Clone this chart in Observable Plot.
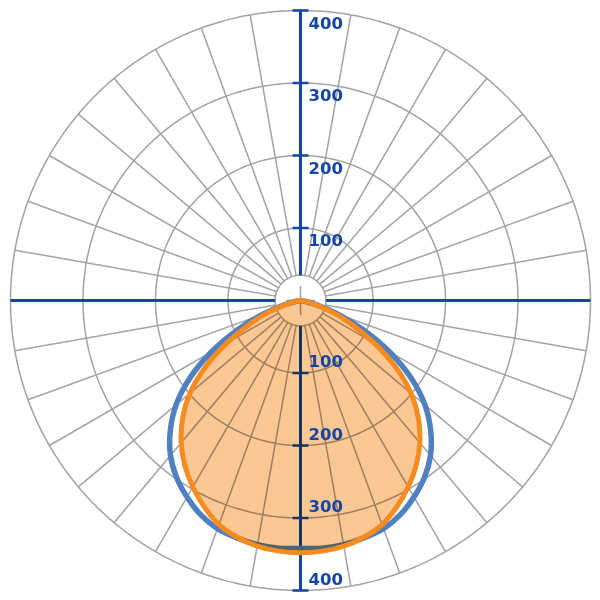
<!DOCTYPE html>
<html><head><meta charset="utf-8">
<script src="https://cdn.jsdelivr.net/npm/d3@7"></script>
<script src="https://cdn.jsdelivr.net/npm/@observablehq/plot@0.6"></script>
<style>
html,body{margin:0;padding:0;background:#fff;}
#chart svg{display:block;}
</style></head><body><div id="chart"></div>
<script>
// gamma angles (degrees from nadir) and luminous intensity values (cd/klm)
const gammaAngles = [0,5,10,15,20,25,30,35,40,45,50,55,60,65,70,75,80,85];
const intensityC0 = [342,343,342,339,335,326,313,298,279,254,224,186,142,96,55,24,6,0];   // blue
const intensityC90 = [348,347,344,338,329,314,297,278,256,230,199,160,117,78,46,19,5,0];  // orange
const ringValues = [100,200,300,400];
const innerRing = 35;
const spokeAngles = d3.range(0,360,10).filter(a => a % 90 !== 0);
const tickValues = [100,200,300,400];
const tickLabels = ["100","200","300","400"];

const rad = d => d*Math.PI/180;
const maxR = 400;

function curvePts(vals){
  const pts = [];
  for (let i = gammaAngles.length-1; i >= 0; i--) pts.push({a:-gammaAngles[i], v:vals[i]});
  for (let i = 1; i < gammaAngles.length; i++) pts.push({a:gammaAngles[i], v:vals[i]});
  return pts.map(p => ({x: p.v*Math.sin(rad(p.a)), y: -p.v*Math.cos(rad(p.a))}));
}
const c0 = curvePts(intensityC0);
const c90 = curvePts(intensityC90);

const rings = [];
for (const r of [innerRing, ...ringValues]) for (let a = 0; a <= 360; a += 1) rings.push({ring:r, x:r*Math.sin(rad(a)), y:r*Math.cos(rad(a))});

const spokes = spokeAngles.map(a => ({x1:innerRing*Math.sin(rad(a)), y1:innerRing*Math.cos(rad(a)), x2:maxR*Math.sin(rad(a)), y2:maxR*Math.cos(rad(a))}));
const crossLen = 20;
const cross = [{x1:-crossLen,y1:0,x2:crossLen,y2:0},{x1:0,y1:-crossLen,x2:0,y2:crossLen}];
const axes = [
  {x1:-maxR,y1:0,x2:-innerRing,y2:0},{x1:innerRing,y1:0,x2:maxR,y2:0},
  {x1:0,y1:innerRing,x2:0,y2:maxR},{x1:0,y1:-innerRing,x2:0,y2:-maxR}
];
const tickHalf = 11;
const ticks = [];
for (const v of tickValues) for (const s of [1,-1]) ticks.push({x1:-tickHalf, x2:tickHalf, y:s*v});
const labelsTop = tickValues.map((v,i) => ({y:v, t:tickLabels[i]}));
const labelsBottom = tickValues.map((v,i) => ({y:-v, t:tickLabels[i]}));

const blue = "#1546a5";
const fillColor = "#fbc792";
const chart = Plot.plot({
  width: 600, height: 600, margin: 10,
  x: {domain:[-400,400], axis:null},
  y: {domain:[-400,400], axis:null},
  style: {fontFamily:"DejaVu Sans", background:"#fff"},
  marks: [
    Plot.line(rings, {x:"x", y:"y", z:"ring", stroke:"#a3a3a3", strokeWidth:1.5}),
    Plot.link(spokes, {x1:"x1", y1:"y1", x2:"x2", y2:"y2", stroke:"#a3a3a3", strokeWidth:1.5}),
    Plot.link(cross, {x1:"x1", y1:"y1", x2:"x2", y2:"y2", stroke:"#a3a3a3", strokeWidth:1.5}),
    Plot.link(axes, {x1:"x1", y1:"y1", x2:"x2", y2:"y2", stroke:blue, strokeWidth:3}),
    Plot.link(ticks, {x1:"x1", x2:"x2", y1:"y", y2:"y", stroke:blue, strokeWidth:2.5}),
    Plot.line(c0, {x:"x", y:"y", stroke:"#4f80c0", strokeWidth:5.5, curve:"catmull-rom"}),
    Plot.line(c90, {x:"x", y:"y", fill:fillColor, stroke:null, curve:"catmull-rom"}),
    Plot.line(c90, {x:"x", y:"y", stroke:"#f68b1f", strokeWidth:5, curve:"catmull-rom"}),
    Plot.text(labelsTop, {x:0, y:"y", text:"t", dx:8, dy:13, textAnchor:"start", fill:blue, fontSize:16.5, fontWeight:"bold"}),
    Plot.text(labelsBottom, {x:0, y:"y", text:"t", dx:8, dy:-11, textAnchor:"start", fill:blue, fontSize:16.5, fontWeight:"bold"})
  ]
});
chart.querySelectorAll(`[fill="${fillColor}"]`).forEach(el => { el.style.mixBlendMode = "multiply"; });
document.getElementById("chart").appendChild(chart);
</script></body></html>
